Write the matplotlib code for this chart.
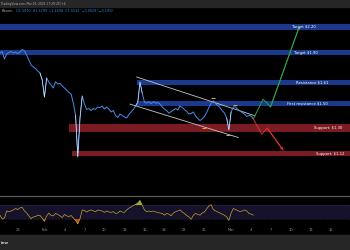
import numpy as np
import pandas as pd
import matplotlib
matplotlib.use('Agg')
import matplotlib.pyplot as plt
import matplotlib.dates as mdates
from matplotlib.patches import Rectangle

# 8h closes, Jan 25 08:00 -> Mar 4 08:00
price = [1.915, 1.930, 1.855, 1.905, 1.920, 1.930, 1.915, 1.925, 1.910, 1.925,
         1.951, 1.936, 1.895, 1.845, 1.797, 1.778, 1.763, 1.740, 1.721, 1.658,
         1.514, 1.676, 1.640, 1.614, 1.589, 1.643, 1.623, 1.629, 1.606, 1.589,
         1.572, 1.551, 1.539, 1.466, 1.376, 1.100, 1.354, 1.522, 1.458, 1.417,
         1.424, 1.409, 1.424, 1.417, 1.436, 1.432, 1.443, 1.420, 1.436, 1.420,
         1.398, 1.409, 1.373, 1.357, 1.383, 1.373, 1.361, 1.354, 1.380, 1.398,
         1.417, 1.443, 1.474, 1.640, 1.547, 1.474, 1.466, 1.477, 1.462, 1.477,
         1.466, 1.470, 1.458, 1.436, 1.420, 1.409, 1.390, 1.402, 1.413, 1.424,
         1.413, 1.443, 1.432, 1.417, 1.402, 1.383, 1.387, 1.398, 1.369, 1.350,
         1.336, 1.347, 1.365, 1.394, 1.432, 1.466, 1.485, 1.462, 1.447, 1.432,
         1.409, 1.390, 1.354, 1.270, 1.398, 1.436, 1.436, 1.417, 1.406, 1.394,
         1.383, 1.365, 1.373, 1.369, 1.347]

rsi = [41, 30, 33, 53, 51, 53, 56, 60, 57, 62,
       63, 53, 47, 39, 31, 36, 37, 41, 40, 33,
       23, 39, 47, 40, 39, 46, 43, 39, 34, 43,
       39, 37, 40, 33, 26, 16, 31, 56, 54, 50,
       54, 56, 53, 51, 56, 54, 53, 49, 53, 50,
       49, 51, 46, 47, 53, 50, 49, 56, 61, 64,
       69, 71, 76, 83, 70, 56, 51, 53, 51, 53,
       50, 49, 47, 46, 41, 46, 44, 39, 47, 51,
       53, 56, 50, 46, 40, 36, 29, 41, 46, 43,
       41, 47, 50, 59, 67, 71, 57, 53, 50, 47,
       44, 41, 36, 26, 47, 60, 57, 54, 51, 53,
       56, 53, 46, 44, 41]

times = pd.date_range('2025-01-25 08:00', periods=len(price), freq='8h')

# projected paths
bull_t = pd.to_datetime(['2025-03-04 08:00', '2025-03-05 19:00', '2025-03-06 22:00', '2025-03-11 05:00'])
bull_p = [1.347, 1.497, 1.436, 2.20]
bear_t = pd.to_datetime(['2025-03-04 08:00', '2025-03-05 14:00', '2025-03-06 10:00', '2025-03-08 19:00'])
bear_p = [1.347, 1.243, 1.283, 1.141]

# falling channel
upper_t = pd.to_datetime(['2025-02-14 20:00', '2025-03-04 14:00'])
upper_p = [1.685, 1.370]
lower_t = pd.to_datetime(['2025-02-13 20:00', '2025-03-02 02:00'])
lower_p = [1.458, 1.220]

# swing marks
swing_t = pd.to_datetime(['2025-02-26 07:00', '2025-03-01 14:00', '2025-02-24 22:00', '2025-02-28 14:00'])
swing_p = [1.510, 1.454, 1.283, 1.237]

# levels
band_names = ['Target $2.20', 'Target $1.90', 'Resistance $1.61',
              'First resistance $1.50', 'Support: $1.30', 'Support: $1.12']
band_mid = [2.20, 1.92, 1.636, 1.463, 1.283, 1.12]
band_start = pd.to_datetime(['2025-01-25 00:00', '2025-01-25 00:00', '2025-02-14 21:00',
                             '2025-02-14 21:00', '2025-02-04 16:00', '2025-02-05 03:00'])
band_kind = ['res', 'res', 'res', 'res', 'sup', 'sup']

tick_dates = pd.to_datetime(['2025-01-28', '2025-02-01', '2025-02-04', '2025-02-07', '2025-02-10',
                             '2025-02-13', '2025-02-16', '2025-02-19', '2025-02-22', '2025-02-25',
                             '2025-03-01', '2025-03-04', '2025-03-07', '2025-03-10', '2025-03-13',
                             '2025-03-16'])
tick_labels = ['28', 'Feb', '4', '7', '10', '13', '16', '19', '22', '25',
               'Mar', '4', '7', '10', '13', '16']

x0 = pd.Timestamp('2025-01-25 08:00')
x1 = pd.Timestamp('2025-03-18 20:00')

fig = plt.figure(figsize=(3.5, 2.5), dpi=100, facecolor='black')

# top and bottom bars
fig.patches.append(Rectangle((0, 1 - 7 / 250), 1, 7 / 250, transform=fig.transFigure,
                             color='#262626', zorder=0))
fig.patches.append(Rectangle((0, 0), 1, 15 / 250, transform=fig.transFigure,
                             color='#262626', zorder=0))
fig.text(0.004, 1 - 3.5 / 250, 'TradingView.com, Mar 03, 2025 17:29 UTC+4',
         fontsize=2.1, color='#b0b0b0', va='center')
fig.text(0.004, 1 - 11 / 250, 'Bitcoin', fontsize=2.4, color='#b0b0b0', va='center')
fig.text(0.046, 1 - 11 / 250, 'O1.5070  H1.5709  L1.4490  C1.5532  \u22120.0029 (\u22120.19%)',
         fontsize=2.4, color='#3b82e0', va='center')
fig.text(0.003, 7 / 250, 'iew', fontsize=3, color='#d0d0d0', va='center', weight='bold')

# main price panel
ax = fig.add_axes([0, 54 / 250, 1, 189 / 250])
ax.set_facecolor('black')
ax.set_yscale('log')
ax.set_ylim(0.893, 2.448)
ax.set_xlim(x0, x1)
ax.axis('off')

band_half = [0.016, 0.015, 0.014, 0.0135, 0.021, 0.015]
for name, mid, start, kind, h in zip(band_names, band_mid, band_start, band_kind, band_half):
    col = '#1b3a8e' if kind == 'res' else '#7b1c24'
    ax.fill_between(mdates.date2num([start, x1 + pd.Timedelta(days=2)]),
                    mid * np.exp(-h), mid * np.exp(h), color=col, lw=0, zorder=1)

label_pos = {
    'Target $2.20': ('2025-03-11 22:00', 'center'),
    'Target $1.90': ('2025-03-12 06:00', 'center'),
    'Resistance $1.61': ('2025-03-13 05:00', 'center'),
    'First resistance $1.50': ('2025-03-12 11:00', 'center'),
    'Support: $1.30': ('2025-03-17 15:00', 'right'),
    'Support: $1.12': ('2025-03-17 22:00', 'right'),
}
for name, mid in zip(band_names, band_mid):
    xt, ha = label_pos[name]
    ax.text(pd.Timestamp(xt), mid, name, fontsize=2.7, color='white',
            ha=ha, va='center', zorder=5)

ax.plot(upper_t, upper_p, color='#c8c8c8', lw=0.6, zorder=3)
ax.plot(lower_t, lower_p, color='#c8c8c8', lw=0.6, zorder=3)

ax.plot(times, price, color='#4a8ce8', lw=0.7, zorder=4)
for a, b in [(18, 22), (34, 38), (61, 65), (102, 105)]:
    ax.plot(times[a:b], price[a:b], color='#e8eef8', lw=0.4, zorder=4)

ax.plot(swing_t, swing_p, ls='none', marker='_', ms=3.5, mew=0.7, color='#d9b13b', zorder=5)

ax.plot(bull_t, bull_p, color='#2ea043', lw=0.7, zorder=4)
ax.annotate('', xy=(bull_t[-1], bull_p[-1]), xytext=(bull_t[-2], bull_p[-2]),
            arrowprops=dict(arrowstyle='-|>', color='#2ea043', lw=0.7,
                            mutation_scale=3, shrinkA=0, shrinkB=0), zorder=4)
ax.plot(bear_t, bear_p, color='#e03131', lw=0.7, zorder=4)
ax.annotate('', xy=(bear_t[-1], bear_p[-1]), xytext=(bear_t[-2], bear_p[-2]),
            arrowprops=dict(arrowstyle='-|>', color='#e03131', lw=0.7,
                            mutation_scale=3, shrinkA=0, shrinkB=0), zorder=4)

# RSI panel
rax = fig.add_axes([0, 25 / 250, 1, 29 / 250])
rax.set_facecolor('black')
rax.set_xlim(x0, x1)
rax.set_ylim(12.9, 95.7)
rax.axhspan(30, 70, color='#17122b', lw=0)
rax.axhline(70, color='#4a4a5a', lw=0.4, ls=':')
rax.axhline(30, color='#4a4a5a', lw=0.4, ls=':')
r = np.array(rsi, dtype=float)
rax.fill_between(times, r, 30, where=r < 30, interpolate=True, color='#d9480f', lw=0)
rax.fill_between(times, r, 70, where=r > 70, interpolate=True, color='#8fae3a', lw=0)
rax.plot(times, r, color='#c4a22c', lw=0.5)
for s in ['left', 'right', 'bottom']:
    rax.spines[s].set_visible(False)
rax.spines['top'].set_color('#5a5a5a')
rax.spines['top'].set_linewidth(0.9)
rax.set_yticks([])
rax.set_xticks(mdates.date2num(tick_dates))
rax.set_xticklabels(tick_labels, fontsize=2.6, color='#8c8c8c')
rax.tick_params(axis='x', length=0, pad=2.2)

fig.savefig('out.png', dpi=100, facecolor='black')
